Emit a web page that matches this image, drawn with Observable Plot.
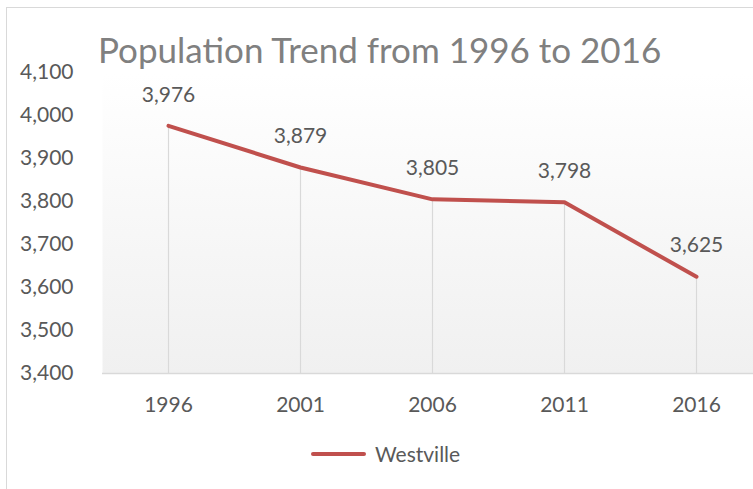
<!DOCTYPE html>
<html>
<head>
<meta charset="utf-8">
<script src="https://cdn.jsdelivr.net/npm/d3@7"></script>
<script src="https://cdn.jsdelivr.net/npm/@observablehq/plot@0.6"></script>
<style>
  html, body { margin: 0; padding: 0; background: #fff; overflow: hidden; width: 753px; height: 489px; }
  #wrap { position: relative; width: 753px; height: 489px; overflow: hidden; font-family: Lato, "Open Sans", sans-serif; }
  #border { position: absolute; left: 6px; top: 7px; width: 770px; height: 500px; border: 1px solid #d9d9d9; box-sizing: border-box; }
  #title { position: absolute; left: 98px; top: 28px; font-size: 35px; color: #808080; white-space: nowrap; }
  #chart { position: absolute; left: 0; top: 0; width: 770px; height: 489px; }
  #chart svg { max-width: none !important; }
  #legend { position: absolute; left: 311px; top: 441px; display: flex; align-items: center; font-size: 21px; color: #595959; }
  #legend .sw { width: 55px; height: 4px; background: #c0504d; border-radius: 2px; margin-right: 9px; }
</style>
</head>
<body>
<div id="wrap">
  <div id="border"></div>
  <div id="chart"></div>
  <div id="title">Population Trend from 1996 to 2016</div>
  <div id="legend"><span class="sw"></span><span>Westville</span></div>
</div>
<script>
const years = ["1996", "2001", "2006", "2011", "2016"];
const population = [3976, 3879, 3805, 3798, 3625];
const yTicks = [3400, 3500, 3600, 3700, 3800, 3900, 4000, 4100];
const seriesName = "Westville";

const data = years.map((y, i) => ({year: y, value: population[i]}));
const fmt = d3.format(",");

const chart = Plot.plot({
  width: 770,
  height: 489,
  marginLeft: 102,
  marginRight: 8,
  marginTop: 72,
  marginBottom: 116,
  style: {fontFamily: "Lato, 'Open Sans', sans-serif", fontSize: "21px", color: "#595959", background: "transparent", maxWidth: "none"},
  x: {type: "band", domain: years, padding: 0, label: null, tickSize: 0, tickPadding: 24},
  y: {domain: [3400, 4100], ticks: yTicks, tickFormat: fmt, label: null, tickSize: 0, tickPadding: 29},
  marks: [
    Plot.frame({fill: "url(#bgGrad)", stroke: null}),
    Plot.ruleX(data, {x: "year", y1: 3400, y2: "value", stroke: "#d9d9d9", strokeWidth: 1.2}),
    Plot.ruleY([3400], {stroke: "#d9d9d9", strokeWidth: 1.5}),
    Plot.line(data, {x: "year", y: "value", stroke: "#c0504d", strokeWidth: 4, strokeLinecap: "round", strokeLinejoin: "round"}),
    Plot.text(data, {x: "year", y: "value", text: d => fmt(d.value), dy: -31, fill: "#595959", fontSize: 21})
  ]
});

const ns = "http://www.w3.org/2000/svg";
const defs = document.createElementNS(ns, "defs");
defs.innerHTML = '<linearGradient id="bgGrad" x1="0" y1="0" x2="0" y2="1"><stop offset="0" stop-color="#ffffff"/><stop offset="1" stop-color="#f0f0f0"/></linearGradient>';
chart.insertBefore(defs, chart.firstChild);
document.getElementById("chart").appendChild(chart);
</script>
</body>
</html>
